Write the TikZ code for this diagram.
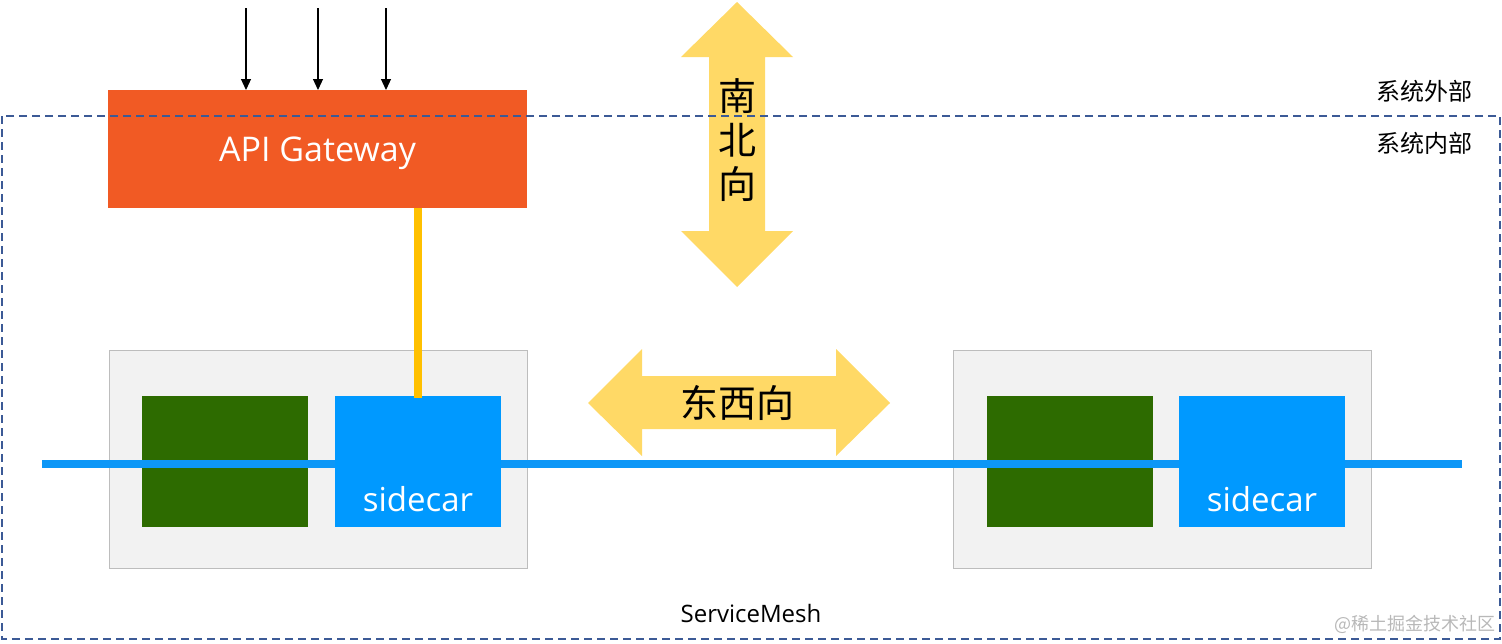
\documentclass[tikz,border=0pt]{standalone}
\usepackage{fontspec}
\setmainfont{Open Sans}
\newfontfamily\cjk{Noto Sans CJK SC}
\usetikzlibrary{positioning,arrows.meta}

\definecolor{gwred}{HTML}{F15A24}
\definecolor{appgreen}{HTML}{2D6B00}
\definecolor{carblue}{HTML}{0099FF}
\definecolor{meshblue}{HTML}{0D97F7}
\definecolor{linkgold}{HTML}{FFC000}
\definecolor{dirgold}{HTML}{FFD966}
\definecolor{podgray}{HTML}{F2F2F2}
\definecolor{podline}{HTML}{BDBDBD}
\definecolor{borderblue}{HTML}{3C5A96}

\begin{document}
\begin{tikzpicture}[x=1pt, y=-1pt,
    blk/.style={inner sep=0pt, outer sep=0pt, anchor=north west},
    gwbox/.style={blk, fill=gwred, minimum width=419pt, minimum height=118pt,
      text=white, text depth=0pt, font=\fontsize{34}{40}\selectfont},
    podbox/.style={blk, fill=podgray, draw=podline, line width=1pt,
      minimum width=418pt, minimum height=218pt},
    appbox/.style={blk, fill=appgreen, minimum width=166pt, minimum height=131pt},
    carbox/.style={blk, fill=carblue, minimum width=166pt, minimum height=131pt},
    cartxt/.style={anchor=base, text=white, font=\fontsize{33}{40}\selectfont},
    meshline/.style={draw=meshblue, line width=8.5pt},
    linkline/.style={draw=linkgold, line width=8pt},
    inarrow/.style={-{Triangle[length=11pt,width=10pt]}, line width=1.2pt},
    dirarrow/.style={fill=dirgold},
    dirtxt/.style={font=\cjk\fontsize{38}{44}\selectfont, align=center},
    zonetxt/.style={font=\cjk\fontsize{24}{28}\selectfont},
    border/.style={draw=borderblue, line width=1.8pt, dash pattern=on 8pt off 5pt}]
  \useasboundingbox (0,0) rectangle (1502,643);

  % Gateway and incoming requests
  \node[gwbox] (gw) at (108,90) {API Gateway};
  \foreach \x [count=\i] in {246,318,386} {
    \coordinate (in\i) at (\x,8);
    \draw[inarrow] (in\i) -- (in\i |- gw.north);
  }

  % North-south arrow
  \fill[dirarrow] (737,2) -- (793,57) -- (765,57) -- (765,231) -- (793,231)
    -- (737,287) -- (681,231) -- (709,231) -- (709,57) -- (681,57) -- cycle;

  % East-west arrow
  \fill[dirarrow] (588,403) -- (642,349) -- (642,376) -- (836,376) -- (836,349)
    -- (890,403) -- (836,456) -- (836,429) -- (642,429) -- (642,456) -- cycle;

  % System boundary
  \draw[border] (2,116) rectangle (1500,639);

  % Services with sidecars
  \node[podbox] (podA) at (109,350) {};
  \node[podbox] (podB) at (953,350) {};
  \node[appbox] (appA) at (142,396) {};
  \node[appbox] (appB) at (987,396) {};

  % Mesh line
  \coordinate (meshW) at (42,464);
  \coordinate (meshE) at (1462,464);
  \draw[meshline] (meshW) -- (meshE);

  \node[carbox] (carA) at (335,396) {};
  \node[carbox] (carB) at (1179,396) {};
  \node[cartxt] (carAtxt) at ([yshift=16pt]carA.south) {sidecar};
  \node[cartxt] (carBtxt) at ([yshift=16pt]carB.south) {sidecar};

  % Gateway to sidecar
  \draw[linkline] (carA.center |- gw.south) -- ([yshift=-2pt]carA.north);

  % Labels
  \node[dirtxt] (nsTxt) at (737,140) {南\\北\\向};
  \node[dirtxt] (ewTxt) at (737,403) {东西向};
  \node[zonetxt] (outTxt) at (1424,91) {系统外部};
  \node[zonetxt] (inTxt) at (1424,143) {系统内部};
  \node[font=\fontsize{24}{28}\selectfont] (meshTxt) at (751,613) {ServiceMesh};
  \node[font=\cjk\fontsize{18}{22}\selectfont, text=black!28] (wmTxt) at (1415,624) {@稀土掘金技术社区};
\end{tikzpicture}
\end{document}
